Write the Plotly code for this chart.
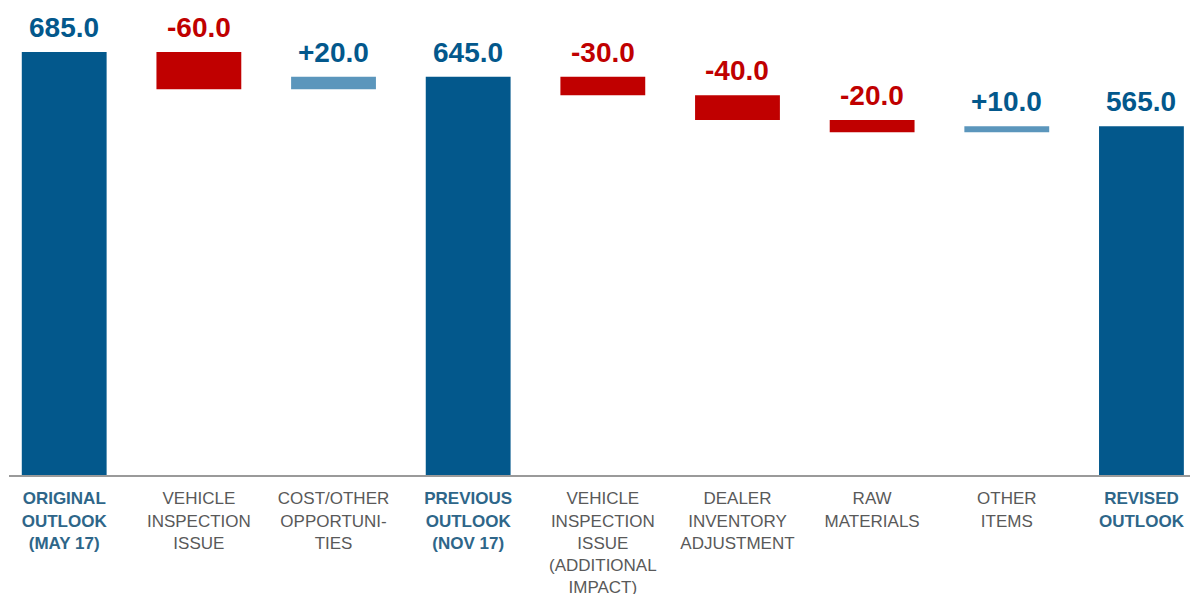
import plotly.graph_objects as go

categories = [
    "ORIGINAL<br>OUTLOOK<br>(MAY 17)",
    "VEHICLE<br>INSPECTION<br>ISSUE",
    "COST/OTHER<br>OPPORTUNI-<br>TIES",
    "PREVIOUS<br>OUTLOOK<br>(NOV 17)",
    "VEHICLE<br>INSPECTION<br>ISSUE<br>(ADDITIONAL<br>IMPACT)",
    "DEALER<br>INVENTORY<br>ADJUSTMENT",
    "RAW<br>MATERIALS",
    "OTHER<br>ITEMS",
    "REVISED<br>OUTLOOK",
]
measures = ["absolute", "relative", "relative", "total", "relative", "relative", "relative", "relative", "total"]
values = [685.0, -60.0, 20.0, 0, -30.0, -40.0, -20.0, 10.0, 0]

DARK = "#03588C"
RED = "#C00000"
LIGHT = "#5B96BC"
TOTAL_TXT = "#2E6689"
GRAY_TXT = "#595959"

# compute running levels for label positions
tops, labels, lcolors = [], [], []
level = 0.0
for m, v in zip(measures, values):
    if m == "absolute":
        level = v
        tops.append(level); labels.append(f"{level:.1f}"); lcolors.append(DARK)
    elif m == "total":
        tops.append(level); labels.append(f"{level:.1f}"); lcolors.append(DARK)
    else:
        start = level
        level = level + v
        tops.append(max(start, level))
        labels.append(f"{v:+.1f}")
        lcolors.append(RED if v < 0 else DARK)

x_idx = list(range(len(categories)))

fig = go.Figure(go.Waterfall(
    x=x_idx,
    y=values,
    measure=measures,
    connector=dict(visible=False),
    increasing=dict(marker=dict(color=LIGHT)),
    decreasing=dict(marker=dict(color=RED)),
    totals=dict(marker=dict(color=DARK)),
    textposition="none",
    hoverinfo="skip",
))

for i, (t, lab, c) in enumerate(zip(tops, labels, lcolors)):
    fig.add_annotation(x=i, y=t, text=f"<b>{lab}</b>", showarrow=False,
                       yanchor="bottom", yshift=7,
                       font=dict(family="Liberation Sans, Arial", size=28, color=c))

ticktext = []
for m, c in zip(measures, categories):
    if m in ("absolute", "total"):
        ticktext.append(f"<b><span style='color:{TOTAL_TXT}'>{c}</span></b>")
    else:
        ticktext.append(c)

fig.update_layout(
    width=1198, height=594,
    margin=dict(l=1, r=8, t=12, b=126.5),
    plot_bgcolor="white", paper_bgcolor="white",
    waterfallgap=0.37,
    showlegend=False,
    xaxis=dict(
        range=[-0.41, 8.42], automargin=False,
        tickmode="array", tickvals=x_idx, ticktext=ticktext,
        tickfont=dict(family="Liberation Sans, Arial", size=17, color=GRAY_TXT),
        showline=True, linecolor="#9A9A9A", linewidth=2,
        showgrid=False, zeroline=False, ticks="", ticklabelstandoff=7,
    ),
    yaxis=dict(range=[0, 737], visible=False, showgrid=False, zeroline=False, automargin=False),
)

fig.write_html("out.html")
